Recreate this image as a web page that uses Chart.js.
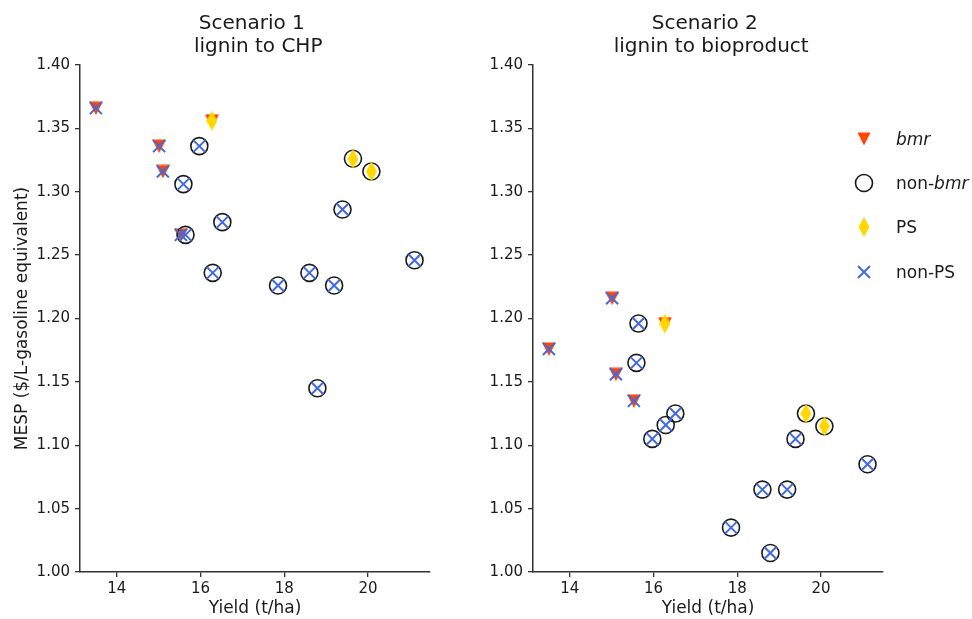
<!DOCTYPE html>
<html>
<head>
<meta charset="utf-8">
<script src="https://cdn.jsdelivr.net/npm/chart.js@4.4.1/dist/chart.umd.min.js"></script>
<style>
  body { margin: 0; background: #fff; font-family: 'DejaVu Sans', sans-serif; }
  #wrap { position: relative; width: 972px; height: 619px; }
  #c1 { position: absolute; left: 0; top: 0; }
  #c2 { position: absolute; left: 480px; top: 0; }
  .leg { position: absolute; left: 852px; height: 24px; display: flex; align-items: center; font-size: 17px; color: #1a1a1a; }
  .leg svg { width: 24px; height: 24px; margin-right: 20px; }
</style>
</head>
<body>
<div id="wrap">
  <canvas id="c1" width="480" height="619"></canvas>
  <canvas id="c2" width="492" height="619"></canvas>
  <div class="leg" style="top:127px">
    <svg viewBox="0 0 24 24"><polygon points="5.5,5.5 18.5,5.5 12,18.5" fill="#FF4500"/></svg><span><i>bmr</i></span>
  </div>
  <div class="leg" style="top:171px">
    <svg viewBox="0 0 24 24"><circle cx="12" cy="12" r="8.5" fill="none" stroke="#1a1a1a" stroke-width="1.6"/></svg><span>non-<i>bmr</i></span>
  </div>
  <div class="leg" style="top:215px">
    <svg viewBox="0 0 24 24"><polygon points="12,2 17.5,12 12,22 6.5,12" fill="#FFD700"/></svg><span>PS</span>
  </div>
  <div class="leg" style="top:260px">
    <svg viewBox="0 0 24 24"><path d="M6,6 L18,18 M18,6 L6,18" stroke="#4169E1" stroke-width="2"/></svg><span>non-PS</span>
  </div>
</div>
<script>
// genotype data, same order in every array
const yieldTHa = [13.5, 15.01, 15.10, 15.53, 16.27, 15.59, 15.64, 15.97, 16.29, 16.52, 17.85, 18.60, 18.79, 19.19, 19.39, 21.11, 19.64, 20.08];
const isBmr = [1, 1, 1, 1, 1, 0, 0, 0, 0, 0, 0, 0, 0, 0, 0, 0, 0, 0];
const isPS = [0, 0, 0, 0, 1, 0, 0, 0, 0, 0, 0, 0, 0, 0, 0, 0, 1, 1];
const mespCHP = [1.366, 1.336, 1.316, 1.266, 1.356, 1.306, 1.266, 1.336, 1.236, 1.276, 1.226, 1.236, 1.145, 1.226, 1.286, 1.246, 1.326, 1.316];
const mespBioproduct = [1.176, 1.216, 1.156, 1.135, 1.196, 1.165, 1.196, 1.105, 1.116, 1.125, 1.035, 1.065, 1.015, 1.065, 1.105, 1.085, 1.125, 1.115];
const xTicks = [14, 16, 18, 20];
const yTicks = [1.00, 1.05, 1.10, 1.15, 1.20, 1.25, 1.30, 1.35, 1.40];

const FONT = 'DejaVu Sans';
const TXT = '#1a1a1a';
const AX = '#333';

// marcadores desenhados à mão (centro = centro da caixa, como no matplotlib)
function marcador(w, h, cor, pontos) {
    const c = document.createElement('canvas');
    c.width = w;
    c.height = h;
    const g = c.getContext('2d');
    g.fillStyle = cor;
    g.beginPath();
    pontos.forEach((p, i) => i ? g.lineTo(p[0], p[1]) : g.moveTo(p[0], p[1]));
    g.closePath();
    g.fill();
    return c;
}
const diamond = marcador(11, 20, '#FFD700', [[5.5, 0], [11, 10], [5.5, 20], [0, 10]]);
const trianguloBaixo = marcador(14, 14, '#FF4500', [[0, 0.5], [14, 0.5], [7, 14]]);

function pick(mesp, test) {
    const pts = [];
    for (let i = 0; i < yieldTHa.length; i++) {
        if (test(i)) pts.push({ x: yieldTHa[i], y: mesp[i] });
    }
    return pts;
}

function criarPainel(id, titulo, mesp, yWidth, yTitle) {
    new Chart(document.getElementById(id), {
        type: 'scatter',
        data: {
            datasets: [
                {
                    label: 'non-PS',
                    data: pick(mesp, i => !isPS[i]),
                    pointStyle: 'crossRot',
                    pointRadius: 8.5,
                    borderColor: '#4169E1',
                    borderWidth: 2,
                    order: 0
                },
                {
                    label: 'PS',
                    data: pick(mesp, i => isPS[i]),
                    pointStyle: diamond,
                    order: 1
                },
                {
                    label: 'non-bmr',
                    data: pick(mesp, i => !isBmr[i]),
                    pointStyle: 'circle',
                    pointRadius: 8.5,
                    backgroundColor: 'rgba(0,0,0,0)',
                    borderColor: '#1a1a1a',
                    borderWidth: 1.6,
                    order: 2
                },
                {
                    label: 'bmr',
                    data: pick(mesp, i => isBmr[i]),
                    pointStyle: trianguloBaixo,
                    order: 3
                }
            ]
        },
        options: {
            responsive: false,
            animation: false,
            events: [],
            clip: false,
            layout: { padding: { left: 0, right: yTitle ? 50 : 89, top: 0, bottom: 0 } },
            plugins: {
                legend: { display: false },
                tooltip: { enabled: false },
                title: {
                    display: true,
                    fullSize: false,
                    text: titulo,
                    color: TXT,
                    font: { family: FONT, size: 20, weight: 'normal', lineHeight: 1.15 },
                    padding: { top: 12, bottom: 7 }
                }
            },
            scales: {
                x: {
                    type: 'linear',
                    min: 13.12,
                    max: 21.48,
                    afterBuildTicks: s => { s.ticks = xTicks.map(v => ({ value: v })); },
                    afterFit: s => { s.height = 47; },
                    grid: { drawOnChartArea: false, drawTicks: true, tickLength: 5, color: AX, lineWidth: 1.3 },
                    border: { display: true, color: AX, width: 1.5 },
                    ticks: { color: TXT, padding: 3, font: { family: FONT, size: 15 }, maxRotation: 0 },
                    title: {
                        display: true,
                        text: 'Yield (t/ha)',
                        color: TXT,
                        font: { family: FONT, size: 17 },
                        padding: { top: 4, bottom: 0 }
                    }
                },
                y: {
                    type: 'linear',
                    min: 1.0,
                    max: 1.4,
                    afterBuildTicks: s => { s.ticks = yTicks.map(v => ({ value: v })); },
                    afterFit: s => { s.width = yWidth; },
                    grid: { drawOnChartArea: false, drawTicks: true, tickLength: 5, color: AX, lineWidth: 1.3 },
                    border: { display: true, color: AX, width: 1.5 },
                    ticks: {
                        color: TXT,
                        padding: 5,
                        font: { family: FONT, size: 15 },
                        callback: v => Number(v).toFixed(2)
                    },
                    title: {
                        display: yTitle,
                        text: 'MESP ($/L-gasoline equivalent)',
                        color: TXT,
                        font: { family: FONT, size: 17 },
                        padding: 12
                    }
                }
            }
        }
    });
}

criarPainel('c1', ['Scenario 1 ', ' lignin to CHP'], mespCHP, 80, true);
criarPainel('c2', ['Scenario 2 ', ' lignin to bioproduct'], mespBioproduct, 53, false);
</script>
</body>
</html>
